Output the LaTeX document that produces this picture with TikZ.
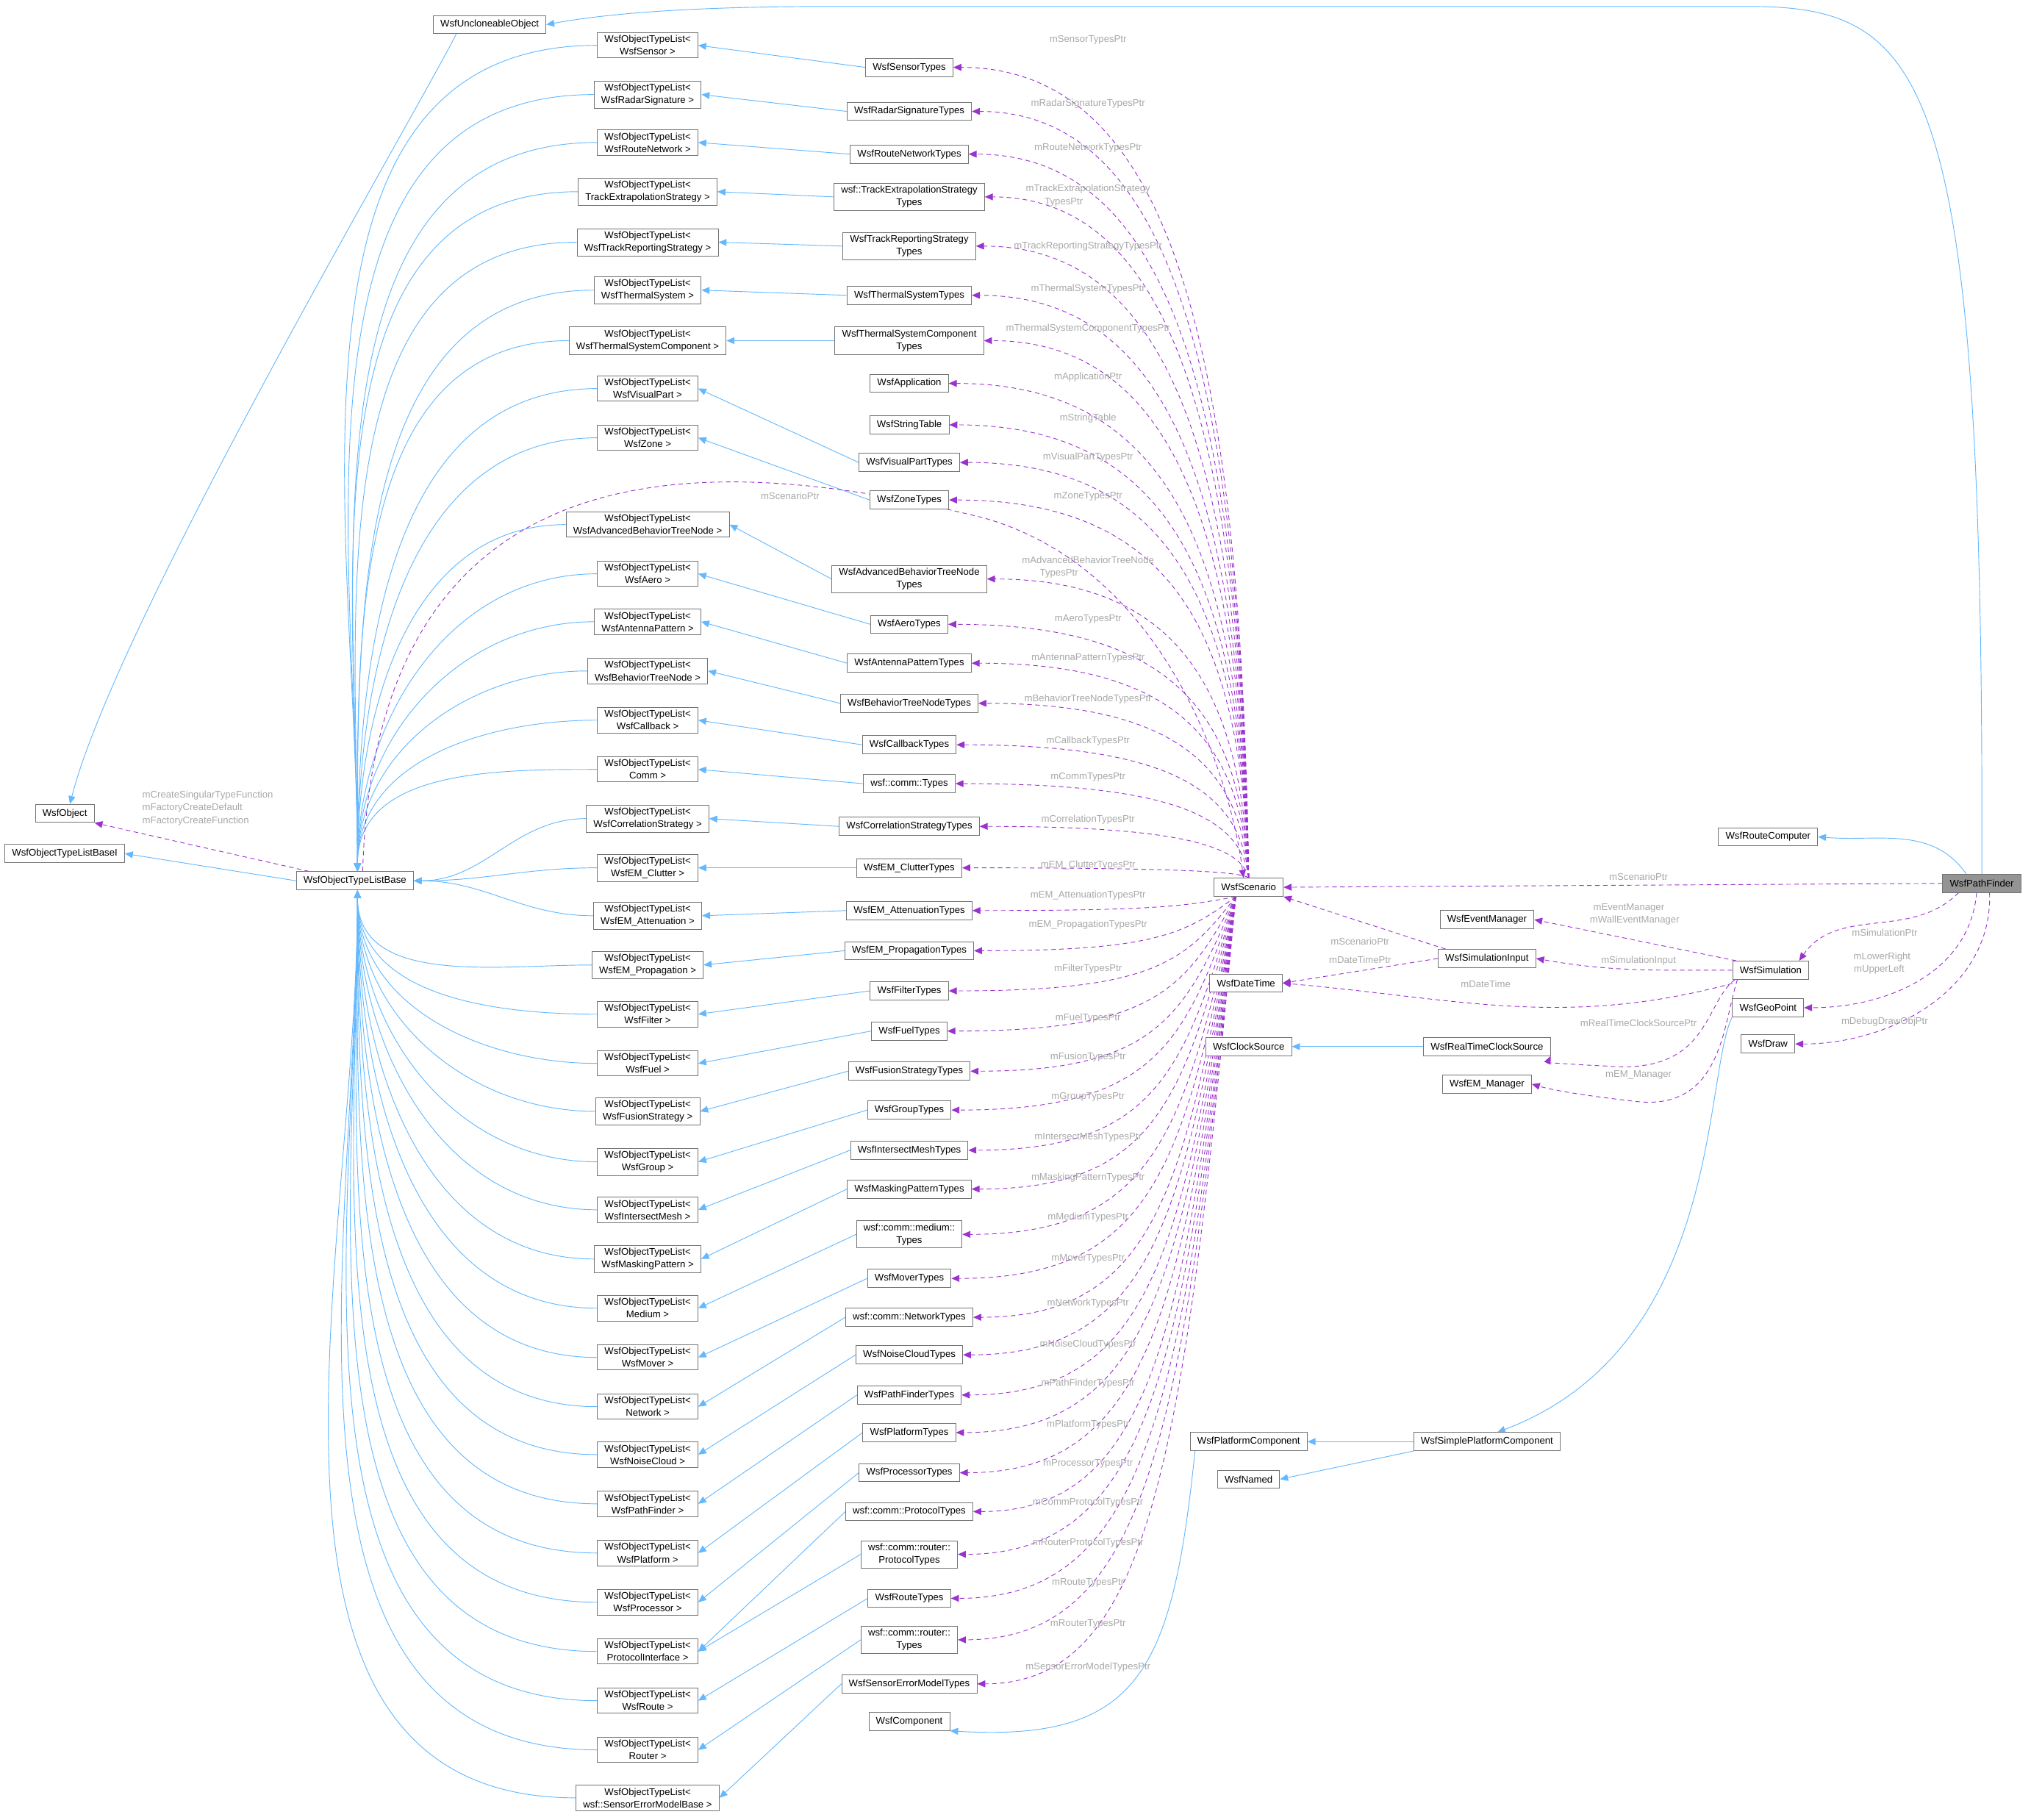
\documentclass[tikz,border=0pt]{standalone}
\usepackage{fontspec}
\setmainfont{Liberation Sans}
\usetikzlibrary{arrows.meta,calc,backgrounds}
\definecolor{inhc}{HTML}{63B8FF}
\definecolor{usec}{HTML}{9A32CD}
\definecolor{lblc}{HTML}{A8A8A8}
\begin{document}
\begin{tikzpicture}[x=0.04cm,y=-0.04cm,
  box/.style={draw=black!55,line width=0.6pt,fill=white,inner xsep=0.22cm,inner ysep=2.5pt,minimum height=0.56cm,align=center,font=\fontsize{8.5}{11}\selectfont},
  inh/.style={draw=inhc,line width=0.6pt,-{Triangle[length=7pt,width=6pt]}},
  use/.style={draw=usec,line width=0.6pt,dashed,dash pattern=on 4pt off 3pt,-{Triangle[length=7pt,width=6pt]}},
  lbl/.style={text=lblc,inner sep=0pt,align=center,font=\fontsize{8.5}{11}\selectfont}]
\useasboundingbox (0,0) rectangle (1568,1405);
% left
\node[box] (U) at (378,19) {WsfUncloneableObject};
\node[box] (O) at (50,628) {WsfObject};
\node[box] (BI) at (50,659) {WsfObjectTypeListBaseI};
\node[box] (B) at (274,680) {WsfObjectTypeListBase};
\foreach \k/\y/\t in {1/35/WsfSensor,2/73/WsfRadarSignature,3/110/WsfRouteNetwork,4/148/TrackExtrapolationStrategy,5/187/WsfTrackReportingStrategy,6/224/WsfThermalSystem,7/263/WsfThermalSystemComponent,8/300/WsfVisualPart,9/338/WsfZone,10/405/WsfAdvancedBehaviorTreeNode,11/443/WsfAero,12/480/WsfAntennaPattern,13/518/WsfBehaviorTreeNode,14/556/WsfCallback,15/594/Comm,16/632/WsfCorrelationStrategy,17/670/WsfEM\_Clutter,18/707/WsfEM\_Attenuation,19/745/WsfEM\_Propagation,20/783/WsfFilter,21/821/WsfFuel,22/858/WsfFusionStrategy,23/897/WsfGroup,24/934/WsfIntersectMesh,25/972/WsfMaskingPattern,26/1010/Medium,27/1048/WsfMover,28/1086/Network,29/1123/WsfNoiseCloud,30/1161/WsfPathFinder,31/1199/WsfPlatform,32/1237/WsfProcessor,33/1275/ProtocolInterface,34/1313/WsfRoute,35/1351/Router,36/1388/wsf::SensorErrorModelBase}
  {\node[box] (L\k) at (500,\y) {WsfObjectTypeList<\\\t\ >};}
\def\typesdata{1/52/WsfSensorTypes/mSensorTypesPtr/31/1,
2/86/WsfRadarSignatureTypes/mRadarSignatureTypesPtr/80/2,
3/119/WsfRouteNetworkTypes/mRouteNetworkTypesPtr/114/3,
4/152/{wsf::TrackExtrapolationStrategy\\Types}/{mTrackExtrapolationStrategy\\TypesPtr\hspace*{5em}}/151/4,
5/190/{WsfTrackReportingStrategy\\Types}/mTrackReportingStrategyTypesPtr/190/5,
6/228/WsfThermalSystemTypes/mThermalSystemTypesPtr/223/6,
7/263/{WsfThermalSystemComponent\\Types}/mThermalSystemComponentTypesPtr/254/7,
8/296/WsfApplication/mApplicationPtr/291/0,
9/328/WsfStringTable/mStringTable/323/0,
10/357/WsfVisualPartTypes/mVisualPartTypesPtr/353/8,
11/386/WsfZoneTypes/mZoneTypesPtr/383/9,
12/447/{WsfAdvancedBehaviorTreeNode\\Types}/{mAdvancedBehaviorTreeNode\\TypesPtr\hspace*{6em}}/438/10,
13/482/WsfAeroTypes/mAeroTypesPtr/478/11,
14/512/WsfAntennaPatternTypes/mAntennaPatternTypesPtr/508/12,
15/543/WsfBehaviorTreeNodeTypes/mBehaviorTreeNodeTypesPtr/540/13,
16/575/WsfCallbackTypes/mCallbackTypesPtr/572/14,
17/605/wsf::comm::Types/mCommTypesPtr/600/15,
18/638/WsfCorrelationStrategyTypes/mCorrelationTypesPtr/633/16,
19/670/WsfEM\_ClutterTypes/mEM\_ClutterTypesPtr/668/17,
20/703/WsfEM\_AttenuationTypes/mEM\_AttenuationTypesPtr/691/18,
21/734/WsfEM\_PropagationTypes/mEM\_PropagationTypesPtr/714/19,
22/765/WsfFilterTypes/mFilterTypesPtr/748/20,
23/796/WsfFuelTypes/mFuelTypesPtr/786/21,
24/827/WsfFusionStrategyTypes/mFusionTypesPtr/816/22,
25/857/WsfGroupTypes/mGroupTypesPtr/847/23,
26/888/WsfIntersectMeshTypes/mIntersectMeshTypesPtr/878/24,
27/918/WsfMaskingPatternTypes/mMaskingPatternTypesPtr/909/25,
28/953/{wsf::comm::medium::\\Types}/mMediumTypesPtr/940/26,
29/987/WsfMoverTypes/mMoverTypesPtr/972/27,
30/1017/wsf::comm::NetworkTypes/mNetworkTypesPtr/1006/28,
31/1046/WsfNoiseCloudTypes/mNoiseCloudTypesPtr/1038/29,
32/1077/WsfPathFinderTypes/mPathFinderTypesPtr/1068/30,
33/1106/WsfPlatformTypes/mPlatformTypesPtr/1100/31,
34/1137/WsfProcessorTypes/mProcessorTypesPtr/1130/32,
35/1167/wsf::comm::ProtocolTypes/mCommProtocolTypesPtr/1160/33,
36/1200/{wsf::comm::router::\\ProtocolTypes}/mRouterProtocolTypesPtr/1191/33,
37/1234/WsfRouteTypes/mRouteTypesPtr/1222/34,
38/1266/{wsf::comm::router::\\Types}/mRouterTypesPtr/1254/35,
39/1300/WsfSensorErrorModelTypes/mSensorErrorModelTypesPtr/1287/36}
\foreach \n/\y/\t/\l/\ly/\k in \typesdata {
  \node[box] (T\n) at (702,\y) {\t};
  \node[lbl] (TL\n) at (840,\ly) {\l};
}
\node[box] (C) at (702,1329) {WsfComponent};
% right
\node[box] (S) at (964,685) {WsfScenario};
\node[box] (R) at (1365,646) {WsfRouteComputer};
\node[box,fill=black!42] (P) at (1530,682) {WsfPathFinder};
\node[box] (EM) at (1148,710) {WsfEventManager};
\node[box] (SI) at (1148,740) {WsfSimulationInput};
\node[box] (Sim) at (1367,749) {WsfSimulation};
\node[box] (DT) at (962,759) {WsfDateTime};
\node[box] (G) at (1365,778) {WsfGeoPoint};
\node[box] (D) at (1365,806) {WsfDraw};
\node[box] (CS) at (964,808) {WsfClockSource};
\node[box] (RT) at (1148,808) {WsfRealTimeClockSource};
\node[box] (EMM) at (1148,837) {WsfEM\_Manager};
\node[box] (PC) at (964,1113) {WsfPlatformComponent};
\node[box] (SPC) at (1148,1113) {WsfSimplePlatformComponent};
\node[box] (N) at (964,1142) {WsfNamed};
% labels
\node[lbl,align=left] (l1) at (163,624) {mCreateSingularTypeFunction\\mFactoryCreateDefault\hspace*{3.6em}\\mFactoryCreateFunction\hspace*{3.2em}};
\node[lbl] (l2) at (610,383) {mScenarioPtr};
\node[lbl] (l3) at (1265,677) {mScenarioPtr};
\node[lbl] (l4) at (1455,720) {mSimulationPtr};
\node[lbl] (l5) at (1453,744) {mLowerRight\\mUpperLeft\hspace*{0.6em}};
\node[lbl] (l6) at (1455,789) {mDebugDrawObjPtr};
\node[lbl] (l7) at (1262,706) {mEventManager\hspace*{1.2em}\\mWallEventManager};
\node[lbl] (l8) at (1050,727) {mScenarioPtr};
\node[lbl] (l9) at (1265,742) {mSimulationInput};
\node[lbl] (l10) at (1050,741) {mDateTimePtr};
\node[lbl] (l11) at (1147,760) {mDateTime};
\node[lbl] (l12) at (1265,790) {mRealTimeClockSourcePtr};
\node[lbl] (l13) at (1265,830) {mEM\_Manager};
\begin{pgfonlayer}{background}
\foreach \k/\y in {1/35,2/73,3/110,4/148,5/187,6/224,7/263,8/300,9/338,10/405,11/443,12/480,13/518,14/556,15/594}
  {\draw[inh] (L\k.west) to[out=180,in=90] ($(B.north)+(2,0)$);}
\foreach \k/\y in {16/632,17/670,18/707}
  {\draw[inh] (L\k.west) to[out=180,in=0] (B.east);}
\foreach \k/\y in {19/745,20/783,21/821,22/858,23/897,24/934,25/972,26/1010,27/1048,28/1086,29/1123,30/1161,31/1199,32/1237,33/1275,34/1313,35/1351,36/1388}
  {\draw[inh] (L\k.west) to[out=180,in=-90] ($(B.south)+(2,0)$);}
\foreach \n/\y/\t/\l/\ly/\k in \typesdata {
  \ifnum\k>0 \draw[inh] (T\n.west) -- (L\k.east);\fi
  \ifnum\y<685
    \draw[use] (S.north) .. controls (958,{\y+0.35*(678-\y)}) and (905,\y) .. (T\n.east);
  \else
    \draw[use] ($(S.south)+(-10,0)$) .. controls (915,{\y-0.3*(\y-692)}) and (890,\y) .. (T\n.east);
  \fi
}
\draw[inh] (B.west) -- (BI.east);
\draw[use] ($(B.north west)+(10,0)$) -- (O.south east);
\draw[inh] ($(U.south west)+(18,0)$) .. controls (320,90) and (90,480) .. ($(O.north)+(4,0)$);
\draw[use] ($(B.north)+(6,0)$) .. controls (290,330) and (560,350) .. (760,400) .. controls (900,440) and (950,600) .. ($(S.north)+(-4,0)$);
\draw[inh] (P.north) .. controls (1532,60) and (1490,5) .. (1350,5) -- (640,5) .. controls (520,5) and (460,12) .. (U.east);
\draw[inh] ($(P.north)+(-12,0)$) to[out=125,in=-5] (R.east);
\draw[use] (P.west) -- (S.east);
\draw[use] ($(P.south)+(-18,0)$) to[out=-135,in=55] ($(Sim.north)+(22,0)$);
\draw[use] ($(P.south)+(-4,0)$) to[out=-95,in=0] (G.east);
\draw[use] ($(P.south)+(6,0)$) to[out=-88,in=0] (D.east);
\draw[use] ($(Sim.north west)+(3,0)$) -- (EM.east);
\draw[use] (Sim.west) to[out=180,in=-10] (SI.east);
\draw[use] ($(SI.north west)+(6,0)$) -- (S.south east);
\draw[use] (SI.west) -- (DT.east);
\draw[use] ($(Sim.south west)+(0,3)$) to[out=195,in=-5] (DT.east);
\draw[use] ($(Sim.south west)+(2,0)$) .. controls (1315,775) and (1320,830) .. (1240,823) .. controls (1215,822) and (1195,820) .. (RT.south east);
\draw[use] ($(Sim.south west)+(4,0)$) .. controls (1330,790) and (1330,860) .. (1260,850) .. controls (1225,846) and (1200,842) .. (EMM.east);
\draw[inh] (RT.west) -- (CS.east);
\draw[inh] (G.south west) .. controls (1315,830) and (1330,1040) .. ($(SPC.north)+(8,0)$);
\draw[inh] (SPC.west) -- (PC.east);
\draw[inh] (SPC.south west) -- (N.east);
\draw[inh] ($(PC.south west)+(4,0)$) .. controls (905,1290) and (880,1345) .. (C.south east);
\end{pgfonlayer}
\end{tikzpicture}
\end{document}
